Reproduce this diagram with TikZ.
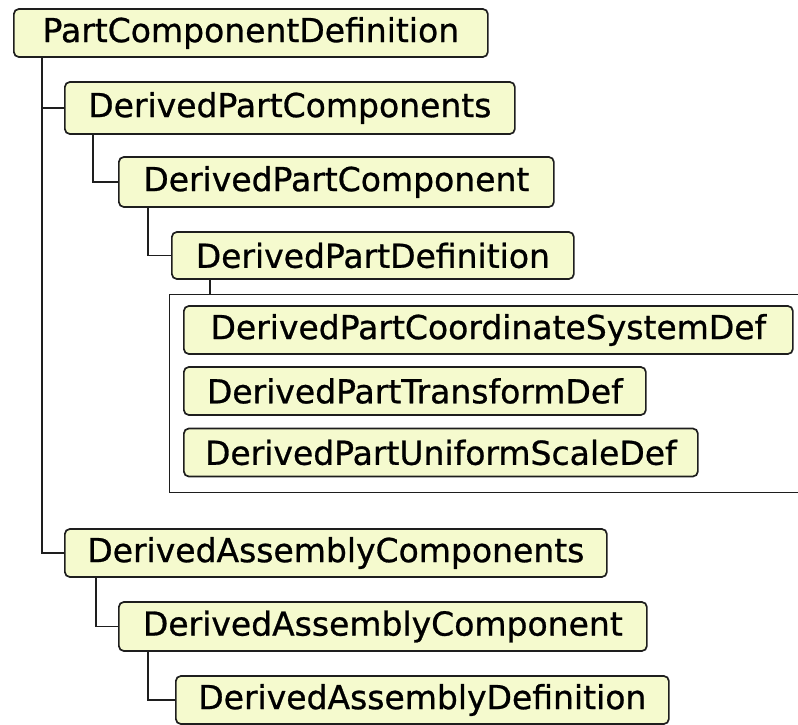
\documentclass[tikz,border=0pt]{standalone}
\usepackage{fontspec}
\setmainfont{DejaVu Sans}
\newfontfamily\lblfont[FakeBold=0.8]{DejaVu Sans}
\definecolor{boxfill}{RGB}{245,250,206}
\definecolor{edge}{RGB}{30,30,30}
\begin{document}
\begin{tikzpicture}[x=1pt,y=-1pt,
  elem/.style={draw=edge, line width=1.7pt, fill=boxfill, rounded corners=5pt,
    anchor=west, inner sep=0pt, minimum height=48pt, align=center,
    font=\lblfont\fontsize{33}{40}\selectfont},
  link/.style={draw=edge, line width=1.8pt},
  grp/.style={draw=edge, line width=1.4pt, anchor=north west, inner sep=0pt}]
\clip (0,0) rectangle (798,725);
\fill[white] (0,0) rectangle (798,725);
% group box
\node[grp, minimum width=661pt, minimum height=198pt] (grp) at (169,294) {};
% nodes
\node[elem, minimum width=474pt] (n1) at (13,33) {PartComponentDefinition};
\node[elem, minimum width=450pt, minimum height=52pt] (n2) at (64,108) {DerivedPartComponents};
\node[elem, minimum width=435pt, minimum height=50pt] (n3) at (118,182) {DerivedPartComponent};
\node[elem, minimum width=402pt, minimum height=47pt] (n4) at (171,255.5) {DerivedPartDefinition};
\node[elem, minimum width=609pt] (c1) at (183,330) {DerivedPartCoordinateSystemDef};
\node[elem, minimum width=462pt] (c2) at (183,391) {DerivedPartTransformDef};
\node[elem, minimum width=514pt] (c3) at (183,452.5) {DerivedPartUniformScaleDef};
\node[elem, minimum width=542pt] (n5) at (64,553) {DerivedAssemblyComponents};
\node[elem, minimum width=528pt, minimum height=49pt] (n6) at (118,626.5) {DerivedAssemblyComponent};
\node[elem, minimum width=493pt] (n7) at (175,700) {DerivedAssemblyDefinition};
% connectors
\draw[link] ([xshift=29pt]n1.south west) |- (n2.west);
\draw[link] ([xshift=29pt]n1.south west) |- (n5.west);
\draw[link] ([xshift=29pt]n2.south west) |- (n3.west);
\draw[link] ([xshift=30pt]n3.south west) |- (n4.west);
\draw[link] ([xshift=39pt]n4.south west) -- ([xshift=39pt]n4.south west |- grp.north);
\draw[link] ([xshift=32pt]n5.south west) |- (n6.west);
\draw[link] ([xshift=30pt]n6.south west) |- (n7.west);
\end{tikzpicture}
\end{document}
